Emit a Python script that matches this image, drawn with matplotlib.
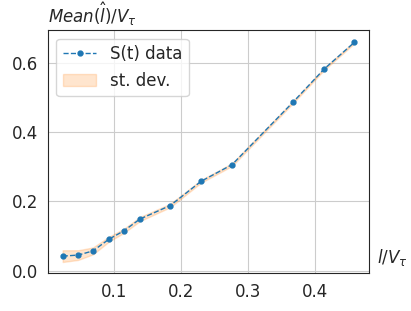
import matplotlib
matplotlib.use('Agg')
import matplotlib.pyplot as plt
import seaborn as sns
import numpy as np

# ratio l/V_tau and mean of estimated l
x_ratio = [0.024, 0.047, 0.069, 0.093, 0.115, 0.139, 0.184, 0.230, 0.276, 0.367, 0.413, 0.458]
mean_l = [0.042, 0.045, 0.057, 0.091, 0.115, 0.149, 0.188, 0.258, 0.306, 0.487, 0.582, 0.659]
std_l = [0.017, 0.014, 0.010, 0.007, 0.006, 0.006, 0.005, 0.004, 0.004, 0.003, 0.003, 0.003]

sns.set_style('whitegrid', {'axes.edgecolor': '.15'})
plt.rcParams['font.family'] = ['DejaVu Sans']

x = np.array(x_ratio)
m = np.array(mean_l)
s = np.array(std_l)

fig, ax = plt.subplots(figsize=(4.11, 3.11), dpi=100)
ax.plot(x, m, '--', marker='o', markersize=3.5, linewidth=1, color='C0', label='S(t) data')
ax.fill_between(x, m - s, m + s, color='C1', alpha=0.2, label='st. dev.')

ax.tick_params(axis='both', labelsize=12)
ax.legend(fontsize=12, loc='upper left')

ax.text(0.0, 1.01, r'$Mean(\hat{l})/V_\tau$', transform=ax.transAxes,
        fontsize=12, color='.15', ha='left', va='bottom')
ax.text(1.025, 0.02, r'$l/V_\tau$', transform=ax.transAxes,
        fontsize=12, color='.15', ha='left', va='bottom')

fig.subplots_adjust(left=0.117, right=0.898, top=0.903, bottom=0.122)
fig.savefig('out.png', dpi=100)
